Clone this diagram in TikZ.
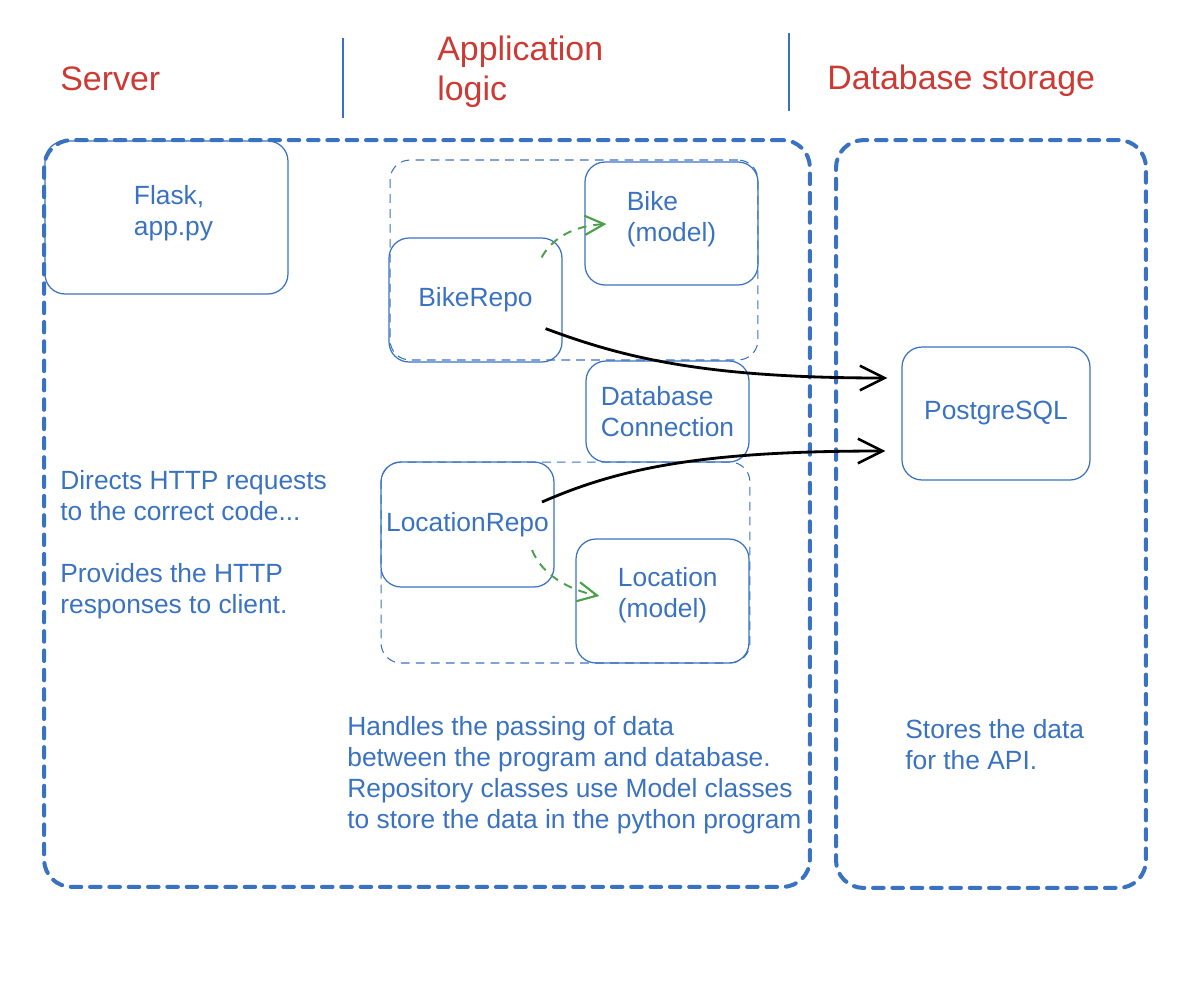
\documentclass[tikz,border=0pt]{standalone}
\usepackage{fontspec}
\setmainfont{Liberation Sans}
\usetikzlibrary{arrows.meta,calc}
\definecolor{dblue}{HTML}{3A72C2}
\definecolor{tred}{HTML}{CC3A33}
\definecolor{tgreen}{HTML}{4CA04A}
\begin{document}
\begin{tikzpicture}[x=0.02cm,y=-0.02cm,
  box/.style={draw=dblue, line width=0.7pt, rounded corners=0.4cm, text=dblue,
    font=\fontsize{15}{17.6}\selectfont, align=left, inner sep=0pt},
  group/.style={draw=dblue, line width=0.6pt, dash pattern=on 5pt off 3.5pt, rounded corners=0.4cm, inner sep=0pt},
  zone/.style={draw=dblue, line width=2.3pt, dash pattern=on 6pt off 5pt, line cap=round, rounded corners=0.55cm, inner sep=0pt},
  title/.style={text=tred, font=\fontsize{19.3}{22.7}\selectfont, align=left, inner sep=0pt, anchor=north west},
  note/.style={text=dblue, font=\fontsize{15}{17.6}\selectfont, align=left, inner sep=0pt, anchor=north west},
  sep/.style={draw=dblue, line width=1.1pt},
  flow/.style={draw=black, line width=1.6pt, -{Straight Barb[length=14pt,width=14pt,line width=1.5pt]}},
  uses/.style={draw=tgreen, line width=1.1pt, dash pattern=on 5pt off 4pt, -{Straight Barb[length=11pt,width=11pt,line width=1.2pt]}}
]
\useasboundingbox (0,0) rectangle (1188,988);

% titles
\node[title] (tserver) at (60,66) {Server};
\node[title] (tapp) at (437,36) {Application\\logic};
\node[title] (tdb) at (827,65) {Database storage};
\draw[sep] (343,38) -- (343,118);
\draw[sep] (789,33) -- (789,111);

% zones
\node[zone, minimum width=15.32cm, minimum height=14.94cm] (zleft) at (427,513.5) {};
\node[zone, minimum width=6.2cm, minimum height=14.96cm] (zright) at (991,514) {};

% groups
\node[group, minimum width=7.36cm, minimum height=4cm] (gbike) at (574,260) {};
\node[group, minimum width=7.38cm, minimum height=4.02cm] (gloc) at (565.5,562.5) {};

% boxes
\node[box, minimum width=4.86cm, minimum height=3.06cm] (flask) at (166.5,217.5) {\hspace*{8pt}Flask,\\\hspace*{8pt}app.py\\[-10pt]\mbox{}};
\node[box, minimum width=3.46cm, minimum height=2.46cm] (bike) at (671.5,223.5) {Bike\\(model)\\[-10pt]\mbox{}};
\node[box, minimum width=3.46cm, minimum height=2.48cm] (bikerepo) at (475.5,300) {BikeRepo};
\node[box, minimum width=3.26cm, minimum height=2.02cm] (dbconn) at (667.5,411.5) {Database\\Connection};
\node[box, minimum width=3.46cm, minimum height=2.5cm] (locrepo) at (467.5,524.5) {LocationRepo};
\node[box, minimum width=3.46cm, minimum height=2.48cm] (loc) at (662.5,601) {\hspace*{6pt}Location\\\hspace*{6pt}(model)\\[-8pt]\mbox{}};
\node[box, minimum width=3.76cm, minimum height=2.66cm] (pg) at (996,413.5) {PostgreSQL};

% notes
\node[note] (nserver) at (60,470) {Directs HTTP requests\\to the correct code...\\~\\Provides the HTTP\\responses to client.};
\node[note] (napp) at (347,716) {Handles the passing of data\\between the program and database.\\Repository classes use Model classes\\to store the data in the python program};
\node[note] (ndb) at (905,719) {Stores the data\\for the API.};

% connectors
\draw[flow] ($(bikerepo.south east)+(-17,-34)$) .. controls +(80,30) and +(-180,0) .. ($(pg.west)+(-14,-35.5)$);
\draw[flow] ($(locrepo.center)+(74.5,-22.5)$) .. controls +(80,-35) and +(-180,0) .. ($(pg.west)+(-16,37.5)$);
\draw[uses] ($(bikerepo.north east)+(-21,20)$) .. controls +(10,-18) and +(-35,2) .. ($(bike.west)+(22,0.5)$);
\draw[uses] ($(locrepo.center)+(64.5,25.5)$) .. controls +(10,25) and +(-30,-6) .. ($(loc.west)+(24,-5)$);
\end{tikzpicture}
\end{document}
